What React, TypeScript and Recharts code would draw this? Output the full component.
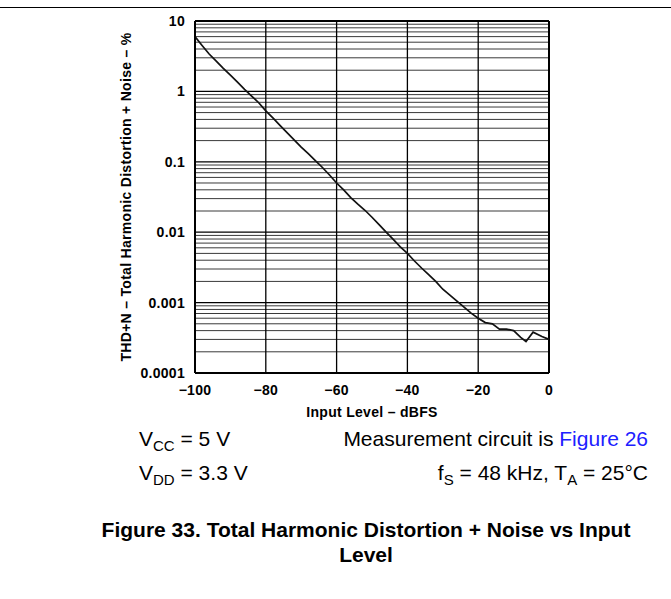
import { Line, LineChart, ReferenceLine, XAxis, YAxis } from 'recharts'

// input level (dBFS) and THD+N (%)
const inputLevel = [
  -100, -98, -96, -94, -92, -90, -88, -86, -84, -82, -80, -78, -76, -74, -72, -70, -68, -66, -64, -62, -60,
  -58, -56, -54, -52, -50, -48, -46, -44, -42, -40, -38, -36, -34, -32, -30, -28, -26, -24, -22, -20, -18,
  -16, -14, -12, -10, -8, -6.5, -4.5, -2, 0,
]
const thdN = [
  6.0, 4.5, 3.4, 2.7, 2.13, 1.7, 1.35, 1.07, 0.86, 0.69, 0.53, 0.42, 0.33, 0.26, 0.205, 0.162, 0.131, 0.104,
  0.083, 0.065, 0.05, 0.04, 0.031, 0.025, 0.0205, 0.0163, 0.0128, 0.01, 0.0079, 0.0062, 0.005, 0.0039,
  0.0031, 0.0025, 0.002, 0.00155, 0.00128, 0.00105, 0.00086, 0.00071, 0.0006, 0.00052, 0.0005, 0.00042,
  0.00042, 0.0004, 0.00032, 0.00028, 0.00038, 0.00033, 0.0003,
]

const xTicks = [-100, -80, -60, -40, -20, 0]
const yTicks = [0.0001, 0.001, 0.01, 0.1, 1, 10]
const xGrid = [-80, -60, -40, -20]
const minorSteps = [2, 3, 4, 5, 6, 7, 8, 9]

const data = inputLevel.map((x, i) => ({ x, y: thdN[i] }))
const minorGrid = yTicks.slice(0, -1).flatMap((d) => minorSteps.map((m) => m * d))

const font = 'Liberation Sans, Arial, Helvetica, sans-serif'
const axisText = { fontSize: 14, fontWeight: 'bold', fill: '#000', fontFamily: font, letterSpacing: 0.3 }

const fmtX = (v: number) => (v < 0 ? `\u2212${-v}` : `${v}`)

export default function App() {
  return (
    <div style={{ position: 'absolute', left: 0, top: 0, width: 671, height: 599, background: '#fff', fontFamily: font }}>
      <div style={{ position: 'absolute', left: 0, top: 7, width: 671, height: 1, background: '#000' }} />
      <div style={{ position: 'absolute', left: 0, top: 0 }}>
        <LineChart width={671} height={460} data={data} margin={{ top: 21, right: 122, bottom: 9, left: 57 }}>
          {minorGrid.map((v) => (
            <ReferenceLine key={`m${v}`} y={v} stroke="#3a3a3a" strokeWidth={1} />
          ))}
          {yTicks.slice(1, -1).map((v) => (
            <ReferenceLine key={`d${v}`} y={v} stroke="#000" strokeWidth={1.3} />
          ))}
          {xGrid.map((v) => (
            <ReferenceLine key={`x${v}`} x={v} stroke="#000" strokeWidth={1.3} />
          ))}
          <ReferenceLine y={10} stroke="#000" strokeWidth={2} />
          <ReferenceLine x={0} stroke="#000" strokeWidth={2} />
          <XAxis
            dataKey="x"
            type="number"
            domain={[-100, 0]}
            ticks={xTicks}
            interval={0}
            tickFormatter={fmtX}
            tickLine={false}
            tickMargin={6}
            axisLine={{ stroke: '#000', strokeWidth: 2 }}
            tick={axisText}
            height={78}
            label={{ value: 'Input Level \u2013 dBFS', position: 'center', ...axisText }}
          />
          <YAxis
            dataKey="y"
            scale="log"
            domain={[0.0001, 10]}
            ticks={yTicks}
            interval={0}
            allowDataOverflow
            tickFormatter={(v: number) => String(v)}
            tickLine={false}
            tickMargin={4}
            axisLine={{ stroke: '#000', strokeWidth: 2 }}
            tick={axisText}
            width={138}
            label={{
              value: 'THD+N \u2013 Total Harmonic Distortion + Noise \u2013 %',
              angle: -90,
              position: 'center',
              ...axisText,
            }}
          />
          <Line
            type="linear"
            dataKey="y"
            stroke="#111"
            strokeWidth={1.7}
            dot={false}
            isAnimationActive={false}
          />
        </LineChart>
      </div>

      <div style={{ position: 'absolute', left: 139, top: 427, fontSize: 21, whiteSpace: 'nowrap', color: '#000' }}>
        V<sub style={{ fontSize: 15 }}>CC</sub> = 5 V
      </div>
      <div style={{ position: 'absolute', left: 139, top: 461, fontSize: 21, whiteSpace: 'nowrap', color: '#000' }}>
        V<sub style={{ fontSize: 15 }}>DD</sub> = 3.3 V
      </div>
      <div style={{ position: 'absolute', right: 23, top: 427, fontSize: 21, whiteSpace: 'nowrap', color: '#000', textAlign: 'right' }}>
        Measurement circuit is <span style={{ color: '#2020ff' }}>Figure 26</span>
      </div>
      <div style={{ position: 'absolute', right: 23, top: 461, fontSize: 21, whiteSpace: 'nowrap', color: '#000', textAlign: 'right' }}>
        f<sub style={{ fontSize: 15 }}>S</sub> = 48 kHz, T<sub style={{ fontSize: 15 }}>A</sub> = 25°C
      </div>

      <div
        style={{
          position: 'absolute',
          left: 0,
          width: 732,
          top: 517,
          fontSize: 21,
          fontWeight: 'bold',
          textAlign: 'center',
          lineHeight: '25px',
          color: '#000',
        }}
      >
        <div style={{ whiteSpace: 'nowrap' }}>Figure 33. Total Harmonic Distortion + Noise vs Input</div>
        <div>Level</div>
      </div>
    </div>
  )
}
